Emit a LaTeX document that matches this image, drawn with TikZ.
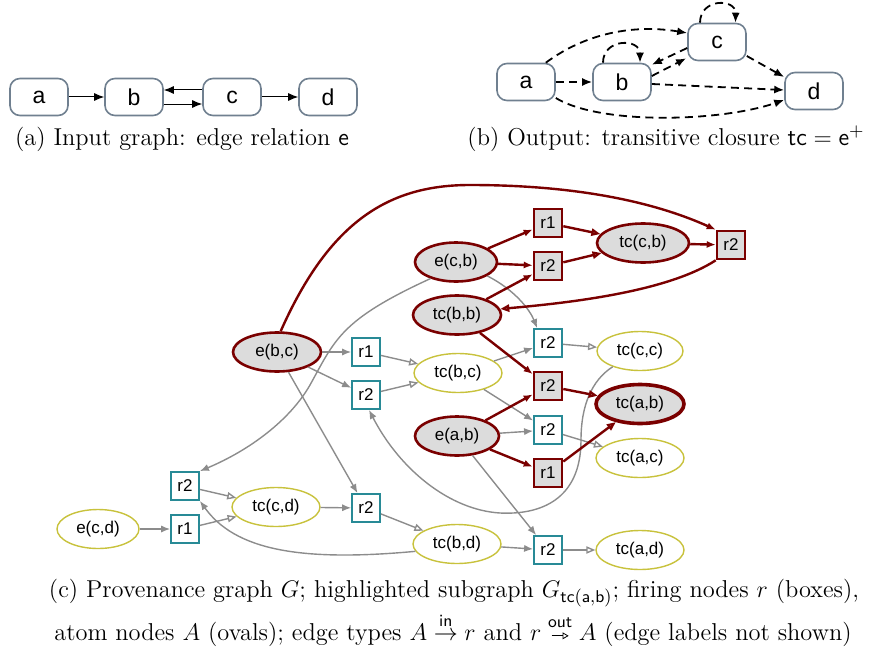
\documentclass[tikz,border=0pt]{standalone}
\usepackage{amsmath}
\usepackage{fontspec}
\usetikzlibrary{arrows.meta,shapes.geometric}
\newfontfamily\helv{Liberation Sans}

\definecolor{slate}{RGB}{112,128,144}
\definecolor{dred}{RGB}{122,0,0}
\definecolor{tealb}{RGB}{40,138,150}
\definecolor{olive}{RGB}{200,194,60}
\definecolor{lgray}{RGB}{220,220,220}
\definecolor{egray}{RGB}{140,140,140}

% open-headed arrow used for "out" edges in the caption
\newsavebox{\outarr}
\sbox{\outarr}{\tikz[baseline=-0.55ex]\draw[line width=0.4pt,-{Triangle[open,length=3pt,width=3.4pt]}](0,0)--(0.85em,0);}

\tikzset{
  pbox/.style={draw=slate, line width=0.8pt, rounded corners=5pt, fill=white,
    minimum width=29pt, minimum height=18.5pt, inner sep=0pt, font=\helv\fontsize{11.5}{12}\selectfont},
  solidedge/.style={line width=0.5pt, -{Latex[length=5pt,width=4pt]}},
  dashedge/.style={line width=0.9pt, dash pattern=on 4pt off 2.6pt, -{Latex[length=5pt,width=4pt]}},
  atom/.style={ellipse, draw=olive, line width=0.7pt, fill=white, inner sep=0pt,
    minimum width=44pt, minimum height=19.5pt, font=\helv\fontsize{8.5}{9}\selectfont},
  hatom/.style={atom, draw=dred, fill=lgray, line width=1.3pt},
  fire/.style={rectangle, draw=tealb, line width=0.9pt, fill=white, inner sep=0pt,
    minimum size=14pt, font=\helv\fontsize{8.5}{9}\selectfont},
  hfire/.style={fire, draw=dred, fill=lgray, line width=1.3pt},
  gin/.style={draw=egray, line width=0.7pt, -{Latex[length=4.5pt,width=3.6pt]}},
  gout/.style={draw=egray, line width=0.7pt, -{Triangle[open,length=4.5pt,width=3.6pt]}},
  rin/.style={draw=dred, line width=1.2pt, -{Latex[length=4.5pt,width=3.6pt]}},
  rout/.style={draw=dred, line width=1.2pt, -{Triangle[open,length=4.5pt,width=3.6pt]}},
  capt/.style={font=\fontsize{12.2}{14}\selectfont, inner sep=0pt}
}

\begin{document}
\begin{tikzpicture}[x=0.5pt,y=-0.5pt]
\useasboundingbox (0,0) rectangle (871,647);

% ---------- (a) input graph ----------
\node[pbox] (a1) at (39,97) {a};
\node[pbox] (b1) at (134,97) {b};
\node[pbox] (c1) at (232,97) {c};
\node[pbox] (d1) at (328,97) {d};
\draw[solidedge] (a1) -- (b1);
\draw[solidedge] ([yshift=3.5pt]c1.west) -- ([yshift=3.5pt]b1.east);
\draw[solidedge] ([yshift=-3.5pt]b1.east) -- ([yshift=-3.5pt]c1.west);
\draw[solidedge] (c1) -- (d1);
\node[capt] (capa) at (182,139) {(a) Input graph: edge relation $\mathsf{e}$};

% ---------- (b) transitive closure ----------
\node[pbox] (a2) at (526,82) {a};
\node[pbox] (b2) at (622,82) {b};
\node[pbox] (c2) at (717,42) {c};
\node[pbox] (d2) at (814,91) {d};
\draw[dashedge] (a2) -- (b2);
\draw[dashedge] ([xshift=-5pt]a2.north east) .. controls (590,30) and (640,25) .. ([yshift=4.5pt]c2.west);
\draw[dashedge] ([yshift=-8pt]a2.east) .. controls (600,125) and (720,122) .. ([yshift=-4.5pt]d2.west);
\draw[dashedge] ([yshift=-1pt]b2.east) -- ([yshift=0.5pt]d2.west);
\draw[dashedge] ([yshift=3pt]b2.east) -- ([xshift=-0.5pt,yshift=1.5pt]c2.south west);
\draw[dashedge] ([yshift=-3pt]c2.west) -- ([yshift=-1pt]b2.north east);
\draw[dashedge] ([yshift=-7pt]c2.east) -- ([yshift=7pt]d2.west);
\draw[dashedge] ([xshift=-9.5pt]b2.north) .. controls (603,38) and (640,38) .. ([xshift=9pt]b2.north);
\draw[dashedge] ([xshift=-8.5pt]c2.north) .. controls (700,-2) and (736,-2) .. ([xshift=9.25pt]c2.north);
\node[capt] (capb) at (666,139) {(b) Output: transitive closure $\mathsf{tc} = \mathsf{e}^{+}$};

% ---------- (c) provenance graph ----------
% atom nodes
\node[hatom] (ebc) at (277,352) {e(b,c)};
\node[hatom, minimum width=41pt] (ecb) at (456,262) {e(c,b)};
\node[hatom] (tbb) at (457,315) {tc(b,b)};
\node[hatom, minimum width=46pt] (tcb) at (643,243) {tc(c,b)};
\node[atom, minimum width=43pt] (tcc) at (640,351) {tc(c,c)};
\node[atom] (tbc) at (458,373) {tc(b,c)};
\node[hatom, line width=1.8pt] (tab) at (640,404) {tc(a,b)};
\node[hatom, minimum width=42pt] (eab) at (457,436) {e(a,b)};
\node[atom] (tac) at (640,458) {tc(a,c)};
\node[atom] (tbd) at (457,544) {tc(b,d)};
\node[atom] (tad) at (640,550) {tc(a,d)};
\node[atom, minimum width=41pt] (ecd) at (98,529) {e(c,d)};
\node[atom] (tcd) at (276,507) {tc(c,d)};
% firing nodes
\node[hfire] (rA) at (548,223) {r1};
\node[hfire] (rB) at (548,266) {r2};
\node[hfire] (rC) at (731,245) {r2};
\node[fire]  (rD) at (548,343) {r2};
\node[fire]  (rE) at (366,352) {r1};
\node[fire]  (rF) at (366,395) {r2};
\node[hfire] (rG) at (548,386) {r2};
\node[fire]  (rH) at (548,430) {r2};
\node[hfire] (rI) at (548,473) {r1};
\node[fire]  (rJ) at (548,550) {r2};
\node[fire]  (rK) at (185,529) {r1};
\node[fire]  (rL) at (185,486) {r2};
\node[fire]  (rM) at (366,508) {r2};

% gray edges
\draw[gin] (ebc) -- (rE);
\draw[gin] (ebc) -- (rF);
\draw[gin] (ebc) -- (rM);
\draw[gin] (ecb.213) .. controls (340,320) and (335,340) .. (310,385)
   .. controls (290,420) and (250,450) .. (rL.north east);
\draw[gin] (ecb.336) .. controls (515,290) and (530,310) .. ([xshift=2pt]rD.north west);
\draw[gin] (tbc) -- (rD);
\draw[gin] (tbc) -- (rH);
\draw[gin] (eab) -- (rH);
\draw[gin] (eab) -- (rJ);
\draw[gin] (tbd) -- (rJ);
\draw[gin] (tcc.210) .. controls (592,380) and (581,405) .. (581,440)
   .. controls (581,500) and (540,515) .. (500,513)
   .. controls (450,510) and (400,470) .. ([xshift=1.5pt]rF.south);
\draw[gin] (ecd) -- (rK);
\draw[gin] (tcd) -- (rM);
\draw[gin] (tbd.190) .. controls (300,562) and (235,550) .. (rL.south east);
\draw[gout] (rE) -- (tbc);
\draw[gout] (rF) -- (tbc);
\draw[gout] (rD) -- (tcc);
\draw[gout] (rH) -- (tac);
\draw[gout] (rJ) -- (tad);
\draw[gout] (rK) -- (tcd);
\draw[gout] (rL) -- (tcd);
\draw[gout] (rM) -- (tbd);

% highlighted subgraph
\draw[rin] (ebc.80) .. controls (330,220) and (390,185) .. (470,185)
   .. controls (570,185) and (650,200) .. (rC.north west);
\draw[rin] (ecb) -- (rA);
\draw[rin] (ecb) -- (rB);
\draw[rin] (tbb) -- (rB);
\draw[rin] (tbb) -- (rG);
\draw[rin] (tcb) -- (rC);
\draw[rin] (eab) -- (rG);
\draw[rin] (eab) -- (rI);
\draw[rout] (rA) -- (tcb);
\draw[rout] (rB) -- (tcb);
\draw[rout] (rC.south west) .. controls (670,290) and (580,302) .. (tbb.8);
\draw[rout] (rG) -- (tab);
\draw[rout] (rI) -- (tab);

\node[capt] (capc1) at (454,593) {(c) Provenance graph $G$; highlighted subgraph $G_{\mathsf{tc(a,b)}}$; firing nodes $r$ (boxes),};
\node[capt] (capc2) at (453,630) {atom nodes $A$ (ovals); edge types $A \overset{\mathsf{in}}{\to} r$ and $r \mathrel{\overset{\mathsf{out}}{\usebox{\outarr}}}A$ (edge labels not shown)};
\end{tikzpicture}
\end{document}
